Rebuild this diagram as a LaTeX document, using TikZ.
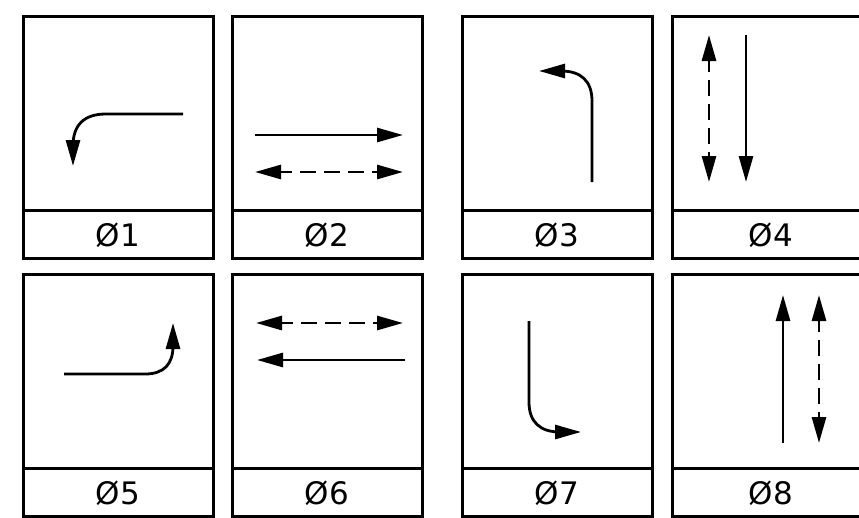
\documentclass[tikz,border=0pt]{standalone}
\usepackage{fontspec}
\newfontfamily\labelfont{DejaVu Sans}
\usetikzlibrary{arrows.meta}
\tikzset{
  panelbox/.style={line width=3pt},
  mv/.style={line width=2.8pt, -{Triangle[length=26pt,width=14pt]}},
  mvboth/.style={line width=2.8pt, {Triangle[length=26pt,width=14pt]}-{Triangle[length=26pt,width=14pt]}, dash pattern=on 16pt off 8pt, dash phase=4pt},
  phlabel/.style={font=\labelfont\fontsize{31}{33}\selectfont, inner sep=0pt}
}
\begin{document}
\begin{tikzpicture}[x=1pt,y=-1pt]
\useasboundingbox (0,0) rectangle (859,517);
\clip (0,0) rectangle (859,517);
% panels: top-left corner x, y
\foreach \px/\py/\lab [count=\i] in {23/16/1, 232/16/2, 462/16/3, 672/16/4, 23/274/5, 232/274/6, 462/274/7, 672/274/8}{
  \pgfmathsetmacro{\pw}{\px>600 ? 198 : 190}
  \draw[panelbox] (\px,\py) rectangle ++(\pw,242);
  \draw[panelbox] (\px,\py+194) -- ++(\pw,0);
  \node[phlabel] (lab\i) at (\px+\pw/2,\py+219) {Ø\lab};
}
% phase 1: left turn from east
\coordinate (p1s) at (183,114);
\coordinate (p1e) at (73,166);
\draw[mv] (p1s) -- (106,114) .. controls (84,114) and (73,125) .. (73,146) -- (p1e);
% phase 2
\coordinate (p2a) at (255,135);
\coordinate (p2b) at (403,135);
\coordinate (p2c) at (255,172);
\coordinate (p2d) at (403,172);
\draw[mv] (p2a) -- (p2b);
\draw[mvboth] (p2c) -- (p2d);
% phase 3
\coordinate (p3s) at (592,182);
\coordinate (p3e) at (539,71);
\draw[mv] (p3s) -- (592,101) .. controls (592,81) and (581,71) .. (561,71) -- (p3e);
% phase 4
\coordinate (p4a) at (709,35);
\coordinate (p4b) at (709,182);
\coordinate (p4c) at (746,35);
\coordinate (p4d) at (746,182);
\draw[mvboth] (p4a) -- (p4b);
\draw[mv] (p4c) -- (p4d);
% phase 5
\coordinate (p5s) at (64,374);
\coordinate (p5e) at (173,323);
\draw[mv] (p5s) -- (145,374) .. controls (164,374) and (173,364) .. (173,346) -- (p5e);
% phase 6
\coordinate (p6a) at (256,323);
\coordinate (p6b) at (403,323);
\coordinate (p6c) at (405,360);
\coordinate (p6d) at (257,360);
\draw[mvboth] (p6a) -- (p6b);
\draw[mv] (p6c) -- (p6d);
% phase 7
\coordinate (p7s) at (529,321);
\coordinate (p7e) at (581,432);
\draw[mv] (p7s) -- (529,402) .. controls (529,422) and (540,432) .. (560,432) -- (p7e);
% phase 8
\coordinate (p8a) at (783,443);
\coordinate (p8b) at (783,295);
\coordinate (p8c) at (819,295);
\coordinate (p8d) at (819,443);
\draw[mv] (p8a) -- (p8b);
\draw[mvboth] (p8c) -- (p8d);
\end{tikzpicture}
\end{document}
